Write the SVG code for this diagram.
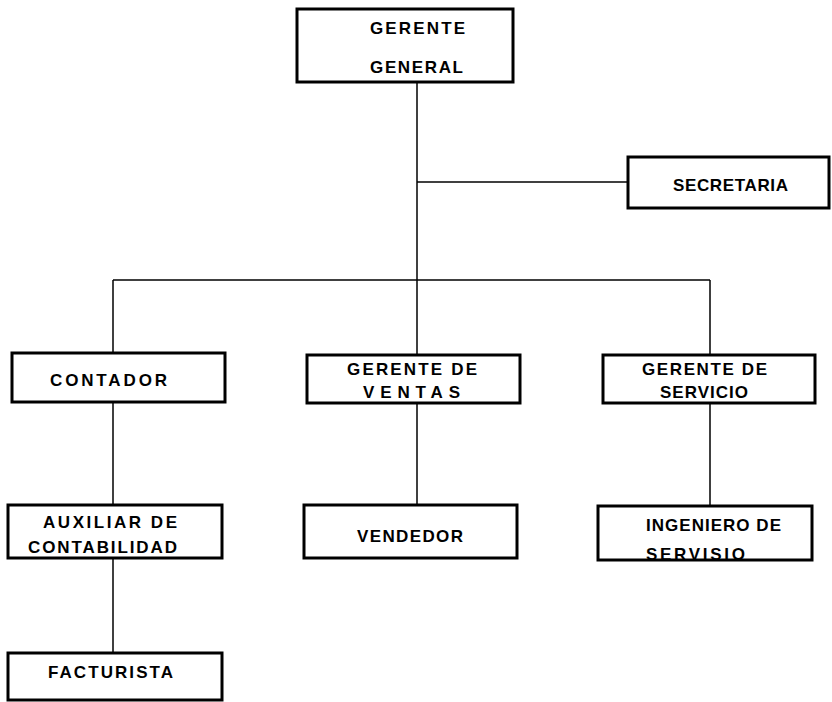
<svg xmlns="http://www.w3.org/2000/svg" width="832" height="702" viewBox="0 0 832 702">
<style>
.box{fill:#fff;stroke:#000;stroke-width:3}
.ln{fill:none;stroke:#000;stroke-width:1.5}
text{font-family:"Liberation Sans",Arial,sans-serif;font-size:17px;font-weight:bold;fill:#000}
</style>
<rect width="832" height="702" fill="#fff"/>
<g id="connectors">
<path class="ln" d="M417,82V355"/>
<path class="ln" d="M417,182H628"/>
<path class="ln" d="M113,280H710"/>
<path class="ln" d="M113,280V353"/>
<path class="ln" d="M710,280V355"/>
<path class="ln" d="M113,402V505"/>
<path class="ln" d="M113,558V653"/>
<path class="ln" d="M417,403V505"/>
<path class="ln" d="M710,403V506"/>
</g>
<g id="gerente-general">
<rect class="box" x="297" y="9" width="216" height="73"/>
<text x="370" y="34" textLength="95" lengthAdjust="spacing">GERENTE</text>
<text x="370" y="73" textLength="93" lengthAdjust="spacing">GENERAL</text>
</g>
<g id="secretaria">
<rect class="box" x="628" y="157" width="201" height="51"/>
<text x="673" y="191" textLength="115" lengthAdjust="spacing">SECRETARIA</text>
</g>
<g id="contador">
<rect class="box" x="12" y="353" width="213" height="49"/>
<text x="50" y="386" textLength="117" lengthAdjust="spacing">CONTADOR</text>
</g>
<g id="gerente-ventas">
<rect class="box" x="307" y="355" width="213" height="48"/>
<text x="347" y="375" textLength="130" lengthAdjust="spacing">GERENTE DE</text>
<text x="363" y="398" textLength="97" lengthAdjust="spacing">VENTAS</text>
</g>
<g id="gerente-servicio">
<rect class="box" x="603" y="355" width="212" height="48"/>
<text x="642" y="375" textLength="125" lengthAdjust="spacing">GERENTE DE</text>
<text x="660" y="398" textLength="88" lengthAdjust="spacing">SERVICIO</text>
</g>
<g id="auxiliar">
<rect class="box" x="8" y="505" width="214" height="53"/>
<text x="43" y="528" textLength="134" lengthAdjust="spacing">AUXILIAR DE</text>
<text x="28" y="553" textLength="149" lengthAdjust="spacing">CONTABILIDAD</text>
</g>
<g id="facturista">
<rect class="box" x="8" y="653" width="214" height="47"/>
<text x="48" y="678" textLength="125" lengthAdjust="spacing">FACTURISTA</text>
</g>
<g id="vendedor">
<rect class="box" x="304" y="505" width="213" height="53"/>
<text x="357" y="542" textLength="106" lengthAdjust="spacing">VENDEDOR</text>
</g>
<g id="ingeniero">
<rect class="box" x="598" y="506" width="214" height="54"/>
<text x="646" y="531" textLength="135" lengthAdjust="spacing">INGENIERO DE</text>
<text x="646" y="560" textLength="99" lengthAdjust="spacing">SERVISIO</text>
</g>
</svg>
